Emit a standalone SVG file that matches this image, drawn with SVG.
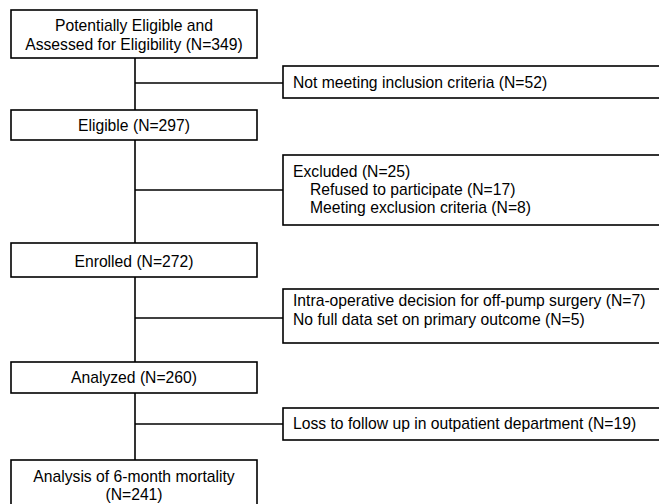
<svg xmlns="http://www.w3.org/2000/svg" width="659" height="504" viewBox="0 0 659 504">
<style>
.box{fill:#fff;stroke:#000;stroke-width:1.6}
.ln{stroke:#000;stroke-width:1.6;fill:none}
text{font-family:"Liberation Sans",Arial,sans-serif;font-size:15.7px;fill:#000}
.c{text-anchor:middle}
</style>
<rect width="659" height="504" fill="#fff"/>
<g id="connectors">
<line class="ln" x1="135" y1="58" x2="135" y2="110"/>
<line class="ln" x1="135" y1="83" x2="283" y2="83"/>
<line class="ln" x1="135" y1="140" x2="135" y2="243"/>
<line class="ln" x1="135" y1="190" x2="283" y2="190"/>
<line class="ln" x1="135" y1="277" x2="135" y2="362"/>
<line class="ln" x1="135" y1="318" x2="283" y2="318"/>
<line class="ln" x1="135" y1="393" x2="135" y2="460"/>
<line class="ln" x1="135" y1="424" x2="283" y2="424"/>
</g>
<g id="n1"><rect class="box" x="11" y="10" width="246" height="48"/>
<text class="c" x="134" y="31">Potentially Eligible and</text>
<text class="c" x="134" y="50">Assessed for Eligibility (N=349)</text></g>
<g id="n2"><rect class="box" x="283" y="66" width="390" height="32"/>
<text x="293" y="88">Not meeting inclusion criteria (N=52)</text></g>
<g id="n3"><rect class="box" x="11" y="110" width="246" height="30"/>
<text class="c" x="134" y="131">Eligible (N=297)</text></g>
<g id="n4"><rect class="box" x="283" y="155" width="390" height="70"/>
<text x="293" y="177">Excluded (N=25)</text>
<text x="310" y="195">Refused to participate (N=17)</text>
<text x="310" y="213">Meeting exclusion criteria (N=8)</text></g>
<g id="n5"><rect class="box" x="11" y="243" width="246" height="34"/>
<text class="c" x="134" y="267">Enrolled (N=272)</text></g>
<g id="n6"><rect class="box" x="283" y="289" width="390" height="54"/>
<text x="293" y="306">Intra-operative decision for off-pump surgery (N=7)</text>
<text x="293" y="325">No full data set on primary outcome (N=5)</text></g>
<g id="n7"><rect class="box" x="11" y="362" width="246" height="31"/>
<text class="c" x="134" y="383">Analyzed (N=260)</text></g>
<g id="n8"><rect class="box" x="283" y="408" width="390" height="32"/>
<text x="293" y="429">Loss to follow up in outpatient department (N=19)</text></g>
<g id="n9"><rect class="box" x="11" y="460" width="246" height="50"/>
<text class="c" x="134" y="482">Analysis of 6-month mortality</text>
<text class="c" x="134" y="500">(N=241)</text></g>
</svg>
